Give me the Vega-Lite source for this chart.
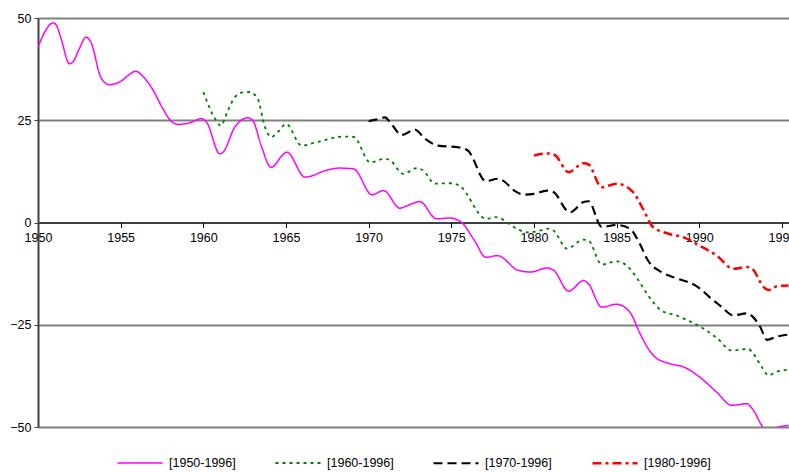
{
  "$schema": "https://vega.github.io/schema/vega-lite/v6.json",
  "width": 751,
  "height": 409,
  "autosize": {"type": "none"},
  "padding": {"left": 38, "top": 18, "right": 0, "bottom": 45},
  "background": "white",
  "config": {
    "view": {"stroke": null},
    "axis": {"labelFont": "Liberation Sans", "labelFontSize": 12, "labelColor": "#000000", "titleFont": "Liberation Sans"},
    "legend": {"labelFont": "Liberation Sans", "labelFontSize": 12, "labelColor": "#000000"}
  },
  "datasets": {
    "series": [
      {"s": "[1950-1996]", "t": 1950.0, "v": 42.9},
      {"s": "[1950-1996]", "t": 1950.4, "v": 46.5},
      {"s": "[1950-1996]", "t": 1950.9, "v": 48.8},
      {"s": "[1950-1996]", "t": 1951.1, "v": 48.3},
      {"s": "[1950-1996]", "t": 1951.4, "v": 44.9},
      {"s": "[1950-1996]", "t": 1951.9, "v": 38.8},
      {"s": "[1950-1996]", "t": 1952.1, "v": 39.2},
      {"s": "[1950-1996]", "t": 1952.5, "v": 42.5},
      {"s": "[1950-1996]", "t": 1952.9, "v": 45.3},
      {"s": "[1950-1996]", "t": 1953.2, "v": 44.1},
      {"s": "[1950-1996]", "t": 1953.8, "v": 35.5},
      {"s": "[1950-1996]", "t": 1954.3, "v": 33.7},
      {"s": "[1950-1996]", "t": 1955.0, "v": 34.5},
      {"s": "[1950-1996]", "t": 1955.5, "v": 36.1},
      {"s": "[1950-1996]", "t": 1955.9, "v": 37.0},
      {"s": "[1950-1996]", "t": 1956.4, "v": 35.5},
      {"s": "[1950-1996]", "t": 1956.85, "v": 33.1},
      {"s": "[1950-1996]", "t": 1957.56, "v": 27.8},
      {"s": "[1950-1996]", "t": 1958.07, "v": 24.7},
      {"s": "[1950-1996]", "t": 1958.5, "v": 24.0},
      {"s": "[1950-1996]", "t": 1959.2, "v": 24.4},
      {"s": "[1950-1996]", "t": 1959.9, "v": 25.4},
      {"s": "[1950-1996]", "t": 1960.2, "v": 24.5},
      {"s": "[1950-1996]", "t": 1961.0, "v": 16.8},
      {"s": "[1950-1996]", "t": 1961.2, "v": 17.2},
      {"s": "[1950-1996]", "t": 1961.9, "v": 23.3},
      {"s": "[1950-1996]", "t": 1962.7, "v": 25.6},
      {"s": "[1950-1996]", "t": 1963.0, "v": 24.9},
      {"s": "[1950-1996]", "t": 1963.5, "v": 18.8},
      {"s": "[1950-1996]", "t": 1964.1, "v": 13.5},
      {"s": "[1950-1996]", "t": 1964.9, "v": 16.9},
      {"s": "[1950-1996]", "t": 1965.05, "v": 17.2},
      {"s": "[1950-1996]", "t": 1966.15, "v": 11.1},
      {"s": "[1950-1996]", "t": 1967.56, "v": 12.9},
      {"s": "[1950-1996]", "t": 1968.2, "v": 13.3},
      {"s": "[1950-1996]", "t": 1969.1, "v": 13.1},
      {"s": "[1950-1996]", "t": 1970.2, "v": 6.8},
      {"s": "[1950-1996]", "t": 1970.9, "v": 7.8},
      {"s": "[1950-1996]", "t": 1971.9, "v": 3.5},
      {"s": "[1950-1996]", "t": 1972.2, "v": 3.9},
      {"s": "[1950-1996]", "t": 1973.1, "v": 5.1},
      {"s": "[1950-1996]", "t": 1974.1, "v": 0.9},
      {"s": "[1950-1996]", "t": 1974.9, "v": 1.1},
      {"s": "[1950-1996]", "t": 1975.6, "v": 0.1},
      {"s": "[1950-1996]", "t": 1976.4, "v": -4.4},
      {"s": "[1950-1996]", "t": 1977.1, "v": -8.5},
      {"s": "[1950-1996]", "t": 1977.8, "v": -8.1},
      {"s": "[1950-1996]", "t": 1979.05, "v": -11.7},
      {"s": "[1950-1996]", "t": 1979.8, "v": -12.1},
      {"s": "[1950-1996]", "t": 1980.8, "v": -11.1},
      {"s": "[1950-1996]", "t": 1981.2, "v": -11.7},
      {"s": "[1950-1996]", "t": 1982.1, "v": -16.8},
      {"s": "[1950-1996]", "t": 1983.0, "v": -14.2},
      {"s": "[1950-1996]", "t": 1983.3, "v": -15.0},
      {"s": "[1950-1996]", "t": 1984.1, "v": -20.7},
      {"s": "[1950-1996]", "t": 1985.0, "v": -20.0},
      {"s": "[1950-1996]", "t": 1985.8, "v": -21.9},
      {"s": "[1950-1996]", "t": 1986.4, "v": -27.0},
      {"s": "[1950-1996]", "t": 1986.8, "v": -30.1},
      {"s": "[1950-1996]", "t": 1987.3, "v": -32.8},
      {"s": "[1950-1996]", "t": 1988.2, "v": -34.5},
      {"s": "[1950-1996]", "t": 1989.1, "v": -35.4},
      {"s": "[1950-1996]", "t": 1990.0, "v": -37.7},
      {"s": "[1950-1996]", "t": 1991.06, "v": -41.5},
      {"s": "[1950-1996]", "t": 1991.96, "v": -44.7},
      {"s": "[1950-1996]", "t": 1992.9, "v": -44.3},
      {"s": "[1950-1996]", "t": 1993.2, "v": -45.5},
      {"s": "[1950-1996]", "t": 1994.1, "v": -50.9},
      {"s": "[1950-1996]", "t": 1994.8, "v": -50.0},
      {"s": "[1950-1996]", "t": 1995.4, "v": -49.6},

      {"s": "[1960-1996]", "t": 1960.0, "v": 31.9},
      {"s": "[1960-1996]", "t": 1960.6, "v": 26.2},
      {"s": "[1960-1996]", "t": 1961.05, "v": 23.7},
      {"s": "[1960-1996]", "t": 1961.5, "v": 27.5},
      {"s": "[1960-1996]", "t": 1961.9, "v": 30.6},
      {"s": "[1960-1996]", "t": 1962.4, "v": 31.8},
      {"s": "[1960-1996]", "t": 1962.8, "v": 31.9},
      {"s": "[1960-1996]", "t": 1963.3, "v": 30.2},
      {"s": "[1960-1996]", "t": 1963.7, "v": 23.7},
      {"s": "[1960-1996]", "t": 1964.1, "v": 20.9},
      {"s": "[1960-1996]", "t": 1964.6, "v": 22.5},
      {"s": "[1960-1996]", "t": 1965.0, "v": 24.1},
      {"s": "[1960-1996]", "t": 1965.95, "v": 18.8},
      {"s": "[1960-1996]", "t": 1966.8, "v": 19.6},
      {"s": "[1960-1996]", "t": 1968.5, "v": 21.0},
      {"s": "[1960-1996]", "t": 1969.1, "v": 20.9},
      {"s": "[1960-1996]", "t": 1970.1, "v": 14.7},
      {"s": "[1960-1996]", "t": 1971.0, "v": 15.6},
      {"s": "[1960-1996]", "t": 1971.3, "v": 15.2},
      {"s": "[1960-1996]", "t": 1972.1, "v": 11.9},
      {"s": "[1960-1996]", "t": 1972.9, "v": 13.3},
      {"s": "[1960-1996]", "t": 1973.3, "v": 12.7},
      {"s": "[1960-1996]", "t": 1974.0, "v": 9.5},
      {"s": "[1960-1996]", "t": 1975.0, "v": 9.6},
      {"s": "[1960-1996]", "t": 1975.5, "v": 9.0},
      {"s": "[1960-1996]", "t": 1977.1, "v": 0.9},
      {"s": "[1960-1996]", "t": 1977.7, "v": 1.3},
      {"s": "[1960-1996]", "t": 1978.96, "v": -1.5},
      {"s": "[1960-1996]", "t": 1979.56, "v": -2.4},
      {"s": "[1960-1996]", "t": 1980.0, "v": -2.3},
      {"s": "[1960-1996]", "t": 1980.9, "v": -1.5},
      {"s": "[1960-1996]", "t": 1981.2, "v": -2.0},
      {"s": "[1960-1996]", "t": 1982.0, "v": -6.4},
      {"s": "[1960-1996]", "t": 1983.0, "v": -4.2},
      {"s": "[1960-1996]", "t": 1983.3, "v": -4.4},
      {"s": "[1960-1996]", "t": 1984.1, "v": -10.3},
      {"s": "[1960-1996]", "t": 1985.0, "v": -9.5},
      {"s": "[1960-1996]", "t": 1985.6, "v": -10.5},
      {"s": "[1960-1996]", "t": 1986.2, "v": -13.4},
      {"s": "[1960-1996]", "t": 1986.9, "v": -17.8},
      {"s": "[1960-1996]", "t": 1987.7, "v": -21.5},
      {"s": "[1960-1996]", "t": 1988.6, "v": -22.7},
      {"s": "[1960-1996]", "t": 1989.4, "v": -24.1},
      {"s": "[1960-1996]", "t": 1989.85, "v": -25.0},
      {"s": "[1960-1996]", "t": 1991.06, "v": -28.2},
      {"s": "[1960-1996]", "t": 1991.96, "v": -31.3},
      {"s": "[1960-1996]", "t": 1992.97, "v": -30.9},
      {"s": "[1960-1996]", "t": 1993.2, "v": -31.7},
      {"s": "[1960-1996]", "t": 1993.8, "v": -35.4},
      {"s": "[1960-1996]", "t": 1994.2, "v": -37.4},
      {"s": "[1960-1996]", "t": 1994.6, "v": -36.6},
      {"s": "[1960-1996]", "t": 1995.4, "v": -36.0},

      {"s": "[1970-1996]", "t": 1970.0, "v": 24.8},
      {"s": "[1970-1996]", "t": 1970.5, "v": 25.2},
      {"s": "[1970-1996]", "t": 1971.0, "v": 25.7},
      {"s": "[1970-1996]", "t": 1971.3, "v": 24.5},
      {"s": "[1970-1996]", "t": 1972.0, "v": 21.4},
      {"s": "[1970-1996]", "t": 1972.8, "v": 22.7},
      {"s": "[1970-1996]", "t": 1973.4, "v": 20.5},
      {"s": "[1970-1996]", "t": 1974.2, "v": 18.8},
      {"s": "[1970-1996]", "t": 1975.4, "v": 18.4},
      {"s": "[1970-1996]", "t": 1976.0, "v": 17.6},
      {"s": "[1970-1996]", "t": 1977.1, "v": 10.1},
      {"s": "[1970-1996]", "t": 1977.8, "v": 10.7},
      {"s": "[1970-1996]", "t": 1978.1, "v": 10.3},
      {"s": "[1970-1996]", "t": 1978.85, "v": 7.7},
      {"s": "[1970-1996]", "t": 1979.36, "v": 6.8},
      {"s": "[1970-1996]", "t": 1980.0, "v": 7.0},
      {"s": "[1970-1996]", "t": 1980.8, "v": 7.8},
      {"s": "[1970-1996]", "t": 1981.2, "v": 7.4},
      {"s": "[1970-1996]", "t": 1982.0, "v": 2.9},
      {"s": "[1970-1996]", "t": 1982.2, "v": 2.5},
      {"s": "[1970-1996]", "t": 1983.0, "v": 5.0},
      {"s": "[1970-1996]", "t": 1983.3, "v": 5.2},
      {"s": "[1970-1996]", "t": 1984.1, "v": -1.1},
      {"s": "[1970-1996]", "t": 1985.0, "v": -0.6},
      {"s": "[1970-1996]", "t": 1985.8, "v": -1.5},
      {"s": "[1970-1996]", "t": 1986.4, "v": -5.2},
      {"s": "[1970-1996]", "t": 1986.9, "v": -9.3},
      {"s": "[1970-1996]", "t": 1987.7, "v": -12.1},
      {"s": "[1970-1996]", "t": 1988.6, "v": -13.6},
      {"s": "[1970-1996]", "t": 1989.85, "v": -15.6},
      {"s": "[1970-1996]", "t": 1990.15, "v": -16.5},
      {"s": "[1970-1996]", "t": 1990.75, "v": -18.7},
      {"s": "[1970-1996]", "t": 1991.26, "v": -20.3},
      {"s": "[1970-1996]", "t": 1992.06, "v": -22.7},
      {"s": "[1970-1996]", "t": 1992.9, "v": -22.2},
      {"s": "[1970-1996]", "t": 1993.2, "v": -22.9},
      {"s": "[1970-1996]", "t": 1993.7, "v": -25.6},
      {"s": "[1970-1996]", "t": 1994.1, "v": -28.7},
      {"s": "[1970-1996]", "t": 1994.7, "v": -27.9},
      {"s": "[1970-1996]", "t": 1995.4, "v": -27.4},

      {"s": "[1980-1996]", "t": 1980.0, "v": 16.4},
      {"s": "[1980-1996]", "t": 1980.9, "v": 16.9},
      {"s": "[1980-1996]", "t": 1981.3, "v": 16.4},
      {"s": "[1980-1996]", "t": 1982.1, "v": 12.3},
      {"s": "[1980-1996]", "t": 1983.0, "v": 14.5},
      {"s": "[1980-1996]", "t": 1983.3, "v": 14.2},
      {"s": "[1980-1996]", "t": 1984.1, "v": 8.6},
      {"s": "[1980-1996]", "t": 1985.0, "v": 9.5},
      {"s": "[1980-1996]", "t": 1986.0, "v": 7.4},
      {"s": "[1980-1996]", "t": 1986.6, "v": 3.3},
      {"s": "[1980-1996]", "t": 1987.2, "v": -1.1},
      {"s": "[1980-1996]", "t": 1988.2, "v": -2.8},
      {"s": "[1980-1996]", "t": 1989.1, "v": -3.7},
      {"s": "[1980-1996]", "t": 1990.0, "v": -5.6},
      {"s": "[1980-1996]", "t": 1991.06, "v": -8.1},
      {"s": "[1980-1996]", "t": 1992.06, "v": -11.3},
      {"s": "[1980-1996]", "t": 1992.9, "v": -10.9},
      {"s": "[1980-1996]", "t": 1993.2, "v": -11.3},
      {"s": "[1980-1996]", "t": 1993.9, "v": -15.8},
      {"s": "[1980-1996]", "t": 1994.2, "v": -16.5},
      {"s": "[1980-1996]", "t": 1994.7, "v": -15.6},
      {"s": "[1980-1996]", "t": 1995.4, "v": -15.4}
    ]
  },
  "data": {"name": "series"},
  "mark": {"type": "line", "interpolate": "monotone", "clip": true, "strokeCap": "butt"},
  "encoding": {
    "x": {
      "field": "t", "type": "quantitative",
      "scale": {"domain": [1950, 1995.43], "nice": false, "zero": false},
      "axis": {
        "title": null, "grid": false, "offset": -204.5,
        "values": [1950, 1955, 1960, 1965, 1970, 1975, 1980, 1985, 1990, 1995],
        "format": "d", "labelFlush": false, "labelOverlap": false, "labelBound": false,
        "labelFont": "Liberation Sans", "labelFontSize": 12.5, "labelColor": "#000000",
        "domainColor": "#000000", "domainWidth": 1.5,
        "tickColor": "#000000", "tickSize": 5, "tickWidth": 1, "labelPadding": 4
      }
    },
    "y": {
      "field": "v", "type": "quantitative",
      "scale": {"domain": [-50, 50], "nice": false, "zero": false},
      "axis": {
        "title": null, "values": [-50, -25, 0, 25, 50], "format": "d",
        "labelFont": "Liberation Sans", "labelFontSize": 12.5, "labelColor": "#000000",
        "grid": true, "gridColor": "#808080", "gridWidth": 2,
        "gridOpacity": {"condition": {"test": "datum.value === 0", "value": 0}, "value": 1},
        "domainColor": "#404040", "domainWidth": 2,
        "tickColor": "#404040", "tickSize": 4, "labelPadding": 3
      }
    },
    "color": {
      "field": "s", "type": "nominal",
      "scale": {"domain": ["[1950-1996]", "[1960-1996]", "[1970-1996]", "[1980-1996]"], "range": ["#FF00FF", "#008000", "#000000", "#FF0000"]},
      "legend": {"title": null, "orient": "none", "legendX": 78, "legendY": 421, "direction": "horizontal", "columns": 4, "columnPadding": 35, "symbolType": "stroke", "symbolSize": 2025, "symbolStrokeWidth": 2, "labelOffset": 5, "padding": 0, "labelFontSize": 12.5}
    },
    "strokeDash": {
      "field": "s", "type": "nominal",
      "scale": {"domain": ["[1950-1996]", "[1960-1996]", "[1970-1996]", "[1980-1996]"], "range": [[1, 0], [3, 4], [9, 5], [9, 4, 3, 4]]},
      "legend": {"title": null, "orient": "none", "legendX": 78, "legendY": 421, "direction": "horizontal", "columns": 4, "columnPadding": 35, "symbolType": "stroke", "symbolSize": 2025, "symbolStrokeWidth": 2, "labelOffset": 5, "padding": 0, "labelFontSize": 12.5}
    },
    "strokeWidth": {
      "field": "s", "type": "ordinal",
      "scale": {"domain": ["[1950-1996]", "[1960-1996]", "[1970-1996]", "[1980-1996]"], "range": [1.5, 2.5, 2, 2]},
      "legend": null
    }
  }
}
